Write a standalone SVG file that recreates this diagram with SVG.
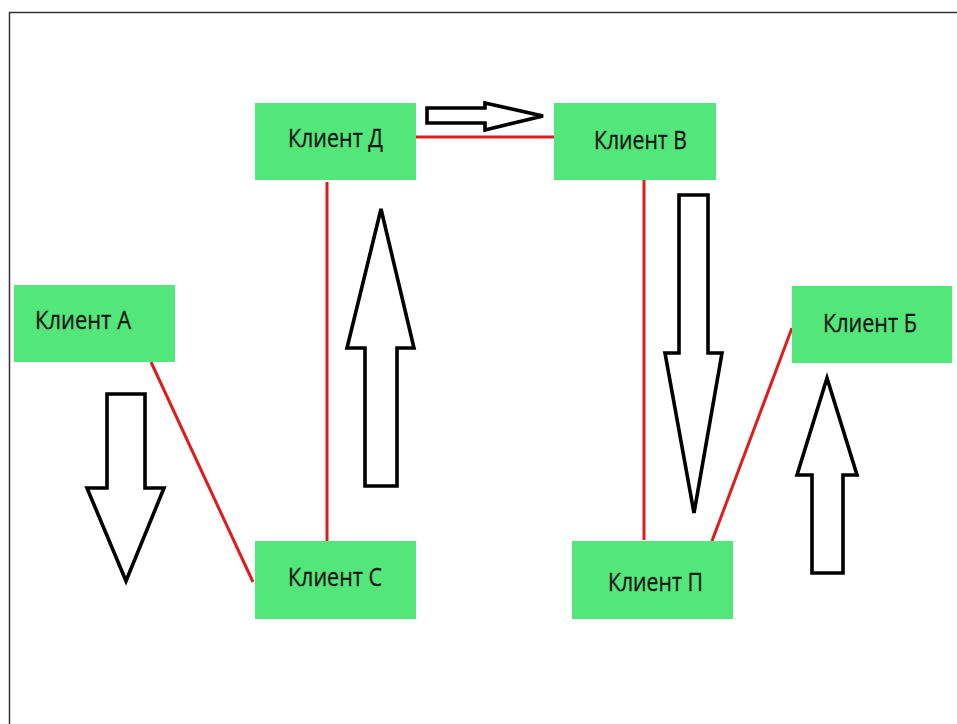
<svg xmlns="http://www.w3.org/2000/svg" width="957" height="724" viewBox="0 0 957 724">
<style>
.box{fill:#53e67a}
.lbl{font-family:"Open Sans","Noto Sans",sans-serif;font-size:25px;fill:#161616;stroke:#161616;stroke-width:0.35}
.link{stroke:#e01b1b;stroke-width:3;fill:none}
.arr{stroke:#000;stroke-width:3.6;fill:#fff;stroke-linejoin:miter}
</style>
<rect width="957" height="724" fill="#fff"/>
<path d="M9.5,724 V12.5 H957" fill="none" stroke="#333" stroke-width="1.5"/>
<g id="connectors">
<line class="link" x1="416" y1="137" x2="554" y2="137"/>
<line class="link" x1="327" y1="182" x2="327" y2="541"/>
<line class="link" x1="644" y1="178" x2="644" y2="540"/>
<line class="link" x1="712" y1="541" x2="792" y2="328"/>
<line class="link" x1="151" y1="362" x2="253" y2="582"/>
</g>
<g id="arrows">
<polygon class="arr" points="427,108 485,108 485,103 543,116 485,130 485,123 427,123"/>
<polygon class="arr" points="107,394 145,394 145,488 164,488 126,581 87,488 107,488"/>
<polygon class="arr" points="381,209 414,348 397,348 397,486 365,486 365,348 347,348"/>
<polygon class="arr" points="679,195 708,195 708,353 722,353 694,513 665,353 679,353"/>
<polygon class="arr" points="827,378 857,475 843,475 843,573 812,573 812,475 797,475"/>
</g>
<g id="node-D"><rect class="box" x="255" y="103" width="161" height="77"/><text class="lbl" x="288" y="147" textLength="95" lengthAdjust="spacingAndGlyphs">Клиент Д</text></g>
<g id="node-V"><rect class="box" x="554" y="103" width="162" height="77"/><text class="lbl" x="594" y="149" textLength="93" lengthAdjust="spacingAndGlyphs">Клиент В</text></g>
<g id="node-A"><rect class="box" x="14" y="285" width="161" height="77"/><text class="lbl" x="35" y="329" textLength="96" lengthAdjust="spacingAndGlyphs">Клиент А</text></g>
<g id="node-S"><rect class="box" x="255" y="541" width="161" height="78"/><text class="lbl" x="288" y="586" textLength="94" lengthAdjust="spacingAndGlyphs">Клиент С</text></g>
<g id="node-P"><rect class="box" x="572" y="541" width="161" height="78"/><text class="lbl" x="608" y="591" textLength="95" lengthAdjust="spacingAndGlyphs">Клиент П</text></g>
<g id="node-B"><rect class="box" x="792" y="286" width="160" height="77"/><text class="lbl" x="823" y="332" textLength="94" lengthAdjust="spacingAndGlyphs">Клиент Б</text></g>
</svg>
